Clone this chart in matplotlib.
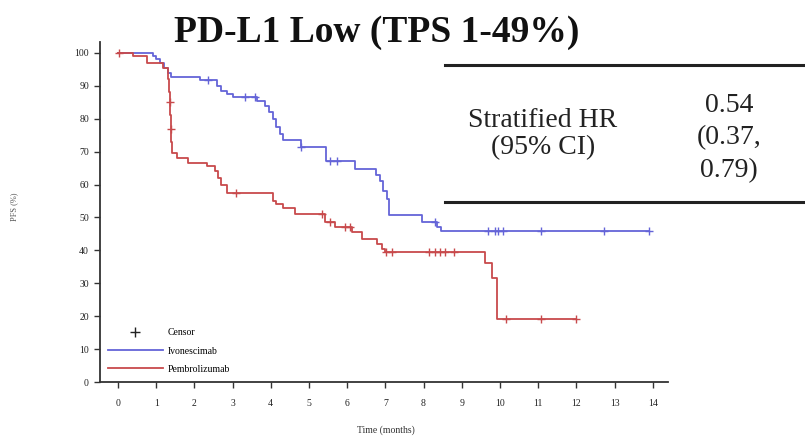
import numpy as np
import matplotlib
matplotlib.use("Agg")
import matplotlib.pyplot as plt
from matplotlib.lines import Line2D

plt.rcParams['font.family'] = ['Liberation Serif', 'DejaVu Serif']

# ---- data ----
title = "PD-L1 Low (TPS 1-49%)"
series_names = ["Ivonescimab", "Pembrolizumab"]

ivo_t = [0, 0.92, 1.0, 1.1, 1.2, 1.3, 1.4, 2.15, 2.6, 2.7, 2.85, 3.0, 3.64, 3.85, 3.95,
         4.05, 4.15, 4.25, 4.32, 4.8, 5.45, 6.2, 6.75, 6.85, 6.95, 7.05, 7.1, 7.96, 8.35, 8.45]
ivo_s = [100, 99, 98, 97, 95.5, 94, 92.8, 91.8, 90, 88.5, 87.5, 86.5, 85.5, 84, 82,
         80, 77.5, 75.5, 73.6, 71.5, 67, 64.6, 63, 61, 58, 55.5, 50.8, 48.7, 47.2, 46]
ivo_end = 13.9
ivo_censor = [2.36, 3.33, 3.59, 4.8, 5.56, 5.74, 8.3, 9.68, 9.88, 9.95, 10.07, 11.07, 12.72, 13.9]

pem_t = [0, 0.4, 0.75, 1.19, 1.32, 1.34, 1.36, 1.37, 1.38, 1.40, 1.42, 1.54, 1.84, 2.33,
         2.55, 2.62, 2.7, 2.85, 4.07, 4.14, 4.33, 4.64, 5.43, 5.69, 6.13, 6.38, 6.78, 6.9,
         6.98, 9.6, 9.8, 9.93]
pem_s = [100, 99, 97, 95.5, 92, 88, 85, 81, 77, 73, 69.5, 68, 66.4, 65.5,
         64, 62, 60, 57.3, 55, 54, 53, 51, 48.7, 47.2, 45.7, 43.5, 42, 40.5,
         39.5, 36.2, 31.5, 19]
pem_end = 12.0
pem_censor = [0.03, 1.365, 1.385, 3.1, 5.34, 5.56, 5.95, 6.08, 7.02, 7.18, 8.13, 8.31,
              8.44, 8.57, 8.79, 10.15, 11.07, 12.0]

x_ticks = list(range(0, 15))
y_ticks = list(range(0, 101, 10))
hr_label = "Stratified HR\n(95% CI)"
hr_value = "0.54\n(0.37,\n0.79)"

colors = {"Ivonescimab": "#6464d8", "Pembrolizumab": "#c84a4c"}

# ---- figure ----
W, H = 805, 436
fig = plt.figure(figsize=(W / 100, H / 100), dpi=100)
ax = fig.add_axes([100 / W, 1 - 382 / H, (668 - 100) / W, (382 - 42) / H])


def step_val(ts, ss, x):
    idx = np.searchsorted(np.asarray(ts), np.asarray(x), side='right') - 1
    return np.asarray(ss)[idx]


for name, ts, ss, tend, cens in [("Ivonescimab", ivo_t, ivo_s, ivo_end, ivo_censor),
                                 ("Pembrolizumab", pem_t, pem_s, pem_end, pem_censor)]:
    xs = list(ts) + [tend]
    ys = list(ss) + [ss[-1]]
    c = colors[name]
    ax.step(xs, ys, where='post', color=c, lw=1.3)
    ax.plot(cens, step_val(ts, ss, cens), linestyle='none', marker='+',
            color=c, markersize=6, markeredgewidth=1.0)

ax.set_xlim(-0.47, 14.4)
ax.set_ylim(0, 103.3)
ax.set_xticks(x_ticks)
ax.set_yticks(y_ticks)
ax.tick_params(labelsize=7, length=4, width=1.0, color='#333333', labelcolor='#222222')
ax.tick_params(axis='x', pad=8)
ax.tick_params(axis='y', pad=4)
for s in ['top', 'right']:
    ax.spines[s].set_visible(False)
for s in ['left', 'bottom']:
    ax.spines[s].set_linewidth(1.3)
    ax.spines[s].set_color('#333333')

ax.set_xlabel("Time (months)", fontsize=7, color='#333333')
ax.xaxis.set_label_coords((386 - 100) / (668 - 100), -(425 - 382) / (382 - 42))
ax.set_ylabel("PFS (%)", fontsize=6, color='#555555')
ax.yaxis.set_label_coords(-(100 - 18) / (668 - 100), (382 - 207) / (382 - 42))

handles = [Line2D([], [], linestyle='none', marker='+', color='#222222', markersize=7),
           Line2D([], [], color=colors["Ivonescimab"], lw=1.3),
           Line2D([], [], color=colors["Pembrolizumab"], lw=1.3)]
labels = ["Censor"] + series_names
leg = ax.legend(handles, labels, loc='lower left', bbox_to_anchor=(0.0, 0.0),
                frameon=False, fontsize=7, handlelength=5.6, handletextpad=0.5,
                labelspacing=0.95, borderaxespad=0.55, borderpad=0.3)

fig.text(377 / W, 1 - 42 / H, title, ha='center', va='baseline',
         fontsize=27, fontweight='bold', color='#111111')

# HR table
fig.add_artist(Line2D([445 / W, 1.0], [1 - 65 / H, 1 - 65 / H], color='#222222', lw=2.2))
fig.add_artist(Line2D([445 / W, 1.0], [1 - 202 / H, 1 - 202 / H], color='#222222', lw=2.2))
fig.text(543 / W, 1 - 134 / H, hr_label, ha='center', va='center', fontsize=20,
         color='#222222', linespacing=1.15)
fig.text(729 / W, 1 - 138 / H, hr_value, ha='center', va='center', fontsize=20,
         color='#222222', linespacing=1.4)

fig.savefig("out.png", dpi=100)
